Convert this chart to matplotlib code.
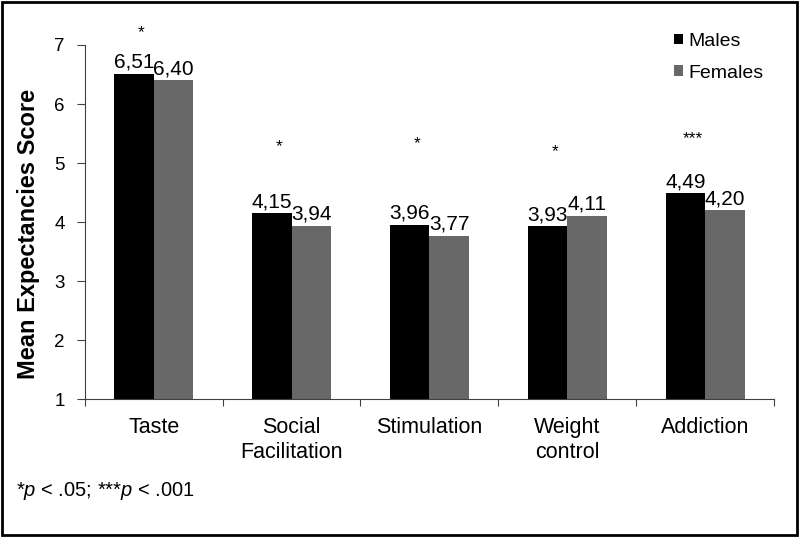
import numpy as np
import matplotlib
matplotlib.use("Agg")
import matplotlib.pyplot as plt
from matplotlib.patches import Rectangle

plt.rcParams['font.family'] = ['Liberation Sans', 'DejaVu Sans']
plt.rcParams['mathtext.fontset'] = 'custom'
plt.rcParams['mathtext.rm'] = 'Liberation Sans'
plt.rcParams['mathtext.it'] = 'Liberation Sans:italic'

# data
categories = ["Taste", "Social\nFacilitation", "Stimulation", "Weight\ncontrol", "Addiction"]
males = [6.51, 4.15, 3.96, 3.93, 4.49]
females = [6.40, 3.94, 3.77, 4.11, 4.20]
stars = ["*", "*", "*", "*", "***"]
star_y = [7.14, 5.21, 5.26, 5.11, 5.33]

fig = plt.figure(figsize=(8, 5.38), dpi=100)
ax = fig.add_axes([0.106, 0.2578, 0.8615, 0.6586])

x = np.arange(len(categories))
w = 0.287
b1 = ax.bar(x - w / 2, males, w, color='black', label='Males')
b2 = ax.bar(x + w / 2, females, w, color='#686868', label='Females')

# value labels, decimal comma
for bars, vals in ((b1, males), (b2, females)):
    for r, v in zip(bars, vals):
        ax.annotate(f"{v:.2f}".replace('.', ','),
                    (r.get_x() + r.get_width() / 2, v),
                    xytext=(0, 1.5), textcoords='offset points',
                    ha='center', va='bottom', fontsize=15)

# significance markers
for i, (s, sy) in enumerate(zip(stars, star_y)):
    ax.text(i - 0.09, sy, s, ha='center', va='baseline', fontsize=12.5, clip_on=False)

ax.set_xlim(-0.5, len(categories) - 0.5)
ax.set_ylim(1, 7)
ax.set_yticks(range(1, 8))
ax.set_xticks(x)
ax.set_xticklabels(categories, fontsize=15.5)
ax.set_xticks(np.arange(-0.5, len(categories)), minor=True)
ax.tick_params(axis='x', which='major', length=0, pad=13)
ax.tick_params(axis='x', which='minor', length=5, width=0.8, color='#404040')
ax.tick_params(axis='y', length=5.5, width=0.8, color='#404040', labelsize=13.5, pad=9)

for sp in ('top', 'right'):
    ax.spines[sp].set_visible(False)
for sp in ('left', 'bottom'):
    ax.spines[sp].set_color('#404040')
    ax.spines[sp].set_linewidth(0.8)

ax.set_ylabel("Mean Expectancies Score", fontsize=17, fontweight='bold')
ax.yaxis.set_label_coords(-0.065, 0.468)

ax.legend(loc='upper left', bbox_to_anchor=(674 / 800, 1 - 33 / 538),
          bbox_transform=fig.transFigure, frameon=False, fontsize=14,
          handlelength=0.46, handleheight=0.46, handletextpad=0.3,
          labelspacing=0.75, borderpad=0, borderaxespad=0)

fig.text(0.02, 1 - 491 / 538, r"*$\it{p}$ < .05; ***$\it{p}$ < .001",
         fontsize=14.5, va='center', ha='left')

# outer frame
fig.patches.append(Rectangle((0.002, 0.006), 0.994, 0.991, transform=fig.transFigure,
                             fill=False, edgecolor='black', linewidth=2))

fig.savefig("out.png", dpi=100)
